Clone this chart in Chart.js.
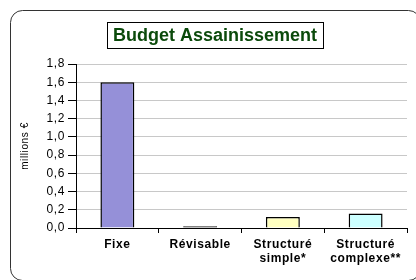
<!DOCTYPE html>
<html><head><meta charset="utf-8">
<script src="https://cdn.jsdelivr.net/npm/chart.js@4/dist/chart.umd.min.js"></script>
<style>html,body{margin:0;padding:0;background:#fff;}#wrap{position:relative;width:416px;height:280px;}</style>
</head><body>
<div id="wrap"><canvas id="c" width="416" height="280"></canvas></div>
<script>
const chartTitle = "Budget Assainissement";
const yAxisTitle = "millions €";
const categories = ["Fixe", "Révisable", ["Structuré", "simple*"], ["Structuré", "complexe**"]];
const values = [1.6, 0.02, 0.12, 0.16];
const barColors = ["#9590d8", "#000000", "#ffffc0", "#ccffff"];
const yTicks = [0, 0.2, 0.4, 0.6, 0.8, 1.0, 1.2, 1.4, 1.6, 1.8];

const FONT = "'Liberation Sans', Arial, sans-serif";

const framePlugin = {
  id: 'frame',
  beforeDraw(chart) {
    const ctx = chart.ctx;
    ctx.save();
    ctx.fillStyle = '#fff';
    ctx.fillRect(0, 0, chart.width, chart.height);
    ctx.strokeStyle = '#333';
    ctx.lineWidth = 1;
    ctx.beginPath();
    ctx.roundRect(10.5, 10.5, 410, 270, 12);
    ctx.stroke();
    ctx.restore();
    ctx.letterSpacing = '0.6px';
  },
  afterDraw(chart) {
    const ctx = chart.ctx;
    ctx.save();
    ctx.letterSpacing = '0px';
    ctx.font = "bold 18px " + FONT;
    ctx.fillStyle = '#0b4a0b';
    ctx.textAlign = 'center';
    ctx.textBaseline = 'middle';
    const cx = 215, cy = 35;
    const w = ctx.measureText(chartTitle).width;
    ctx.fillText(chartTitle, cx, cy + 1);
    ctx.strokeStyle = '#000';
    ctx.lineWidth = 1;
    ctx.strokeRect(Math.round(cx - w / 2 - 6) + 0.5, 22.5, Math.round(w + 12), 26);
    ctx.restore();
  }
};

new Chart(document.getElementById('c'), {
  type: 'bar',
  data: {
    labels: categories,
    datasets: [{
      data: values,
      backgroundColor: barColors,
      borderColor: '#000',
      borderWidth: 1.5,
      borderSkipped: 'start',
      categoryPercentage: 1,
      barPercentage: 0.41
    }]
  },
  options: {
    responsive: false,
    animation: false,
    devicePixelRatio: 1,
    layout: { padding: { top: 64, right: 9, bottom: 0, left: 0 } },
    plugins: { legend: { display: false }, title: { display: false }, tooltip: { enabled: false } },
    scales: {
      x: {
        afterFit(s) { s.height = 52; },
        grid: { offset: true, drawOnChartArea: false, tickLength: 5, tickColor: '#000', lineWidth: 1 },
        border: { color: '#000', width: 1 },
        ticks: { color: '#000', font: { family: FONT, size: 12, weight: 'bold', lineHeight: 1.2 }, padding: 4, maxRotation: 0, autoSkip: false }
      },
      y: {
        min: 0, max: 1.8,
        afterFit(s) { s.width = 76; },
        afterBuildTicks(s) { s.ticks = yTicks.map(v => ({ value: v })); },
        grid: { color: '#c8c8c8', lineWidth: 1, tickLength: 8, tickColor: '#000' },
        border: { color: '#000', width: 1 },
        ticks: {
          color: '#000', font: { family: FONT, size: 12 }, padding: 3,
          callback: v => Number(v).toFixed(1).replace('.', ',')
        },
        title: { display: true, text: yAxisTitle, color: '#000', font: { family: FONT, size: 10 }, padding: { top: 19, bottom: 0 } }
      }
    }
  },
  plugins: [framePlugin]
});
</script>
</body></html>
